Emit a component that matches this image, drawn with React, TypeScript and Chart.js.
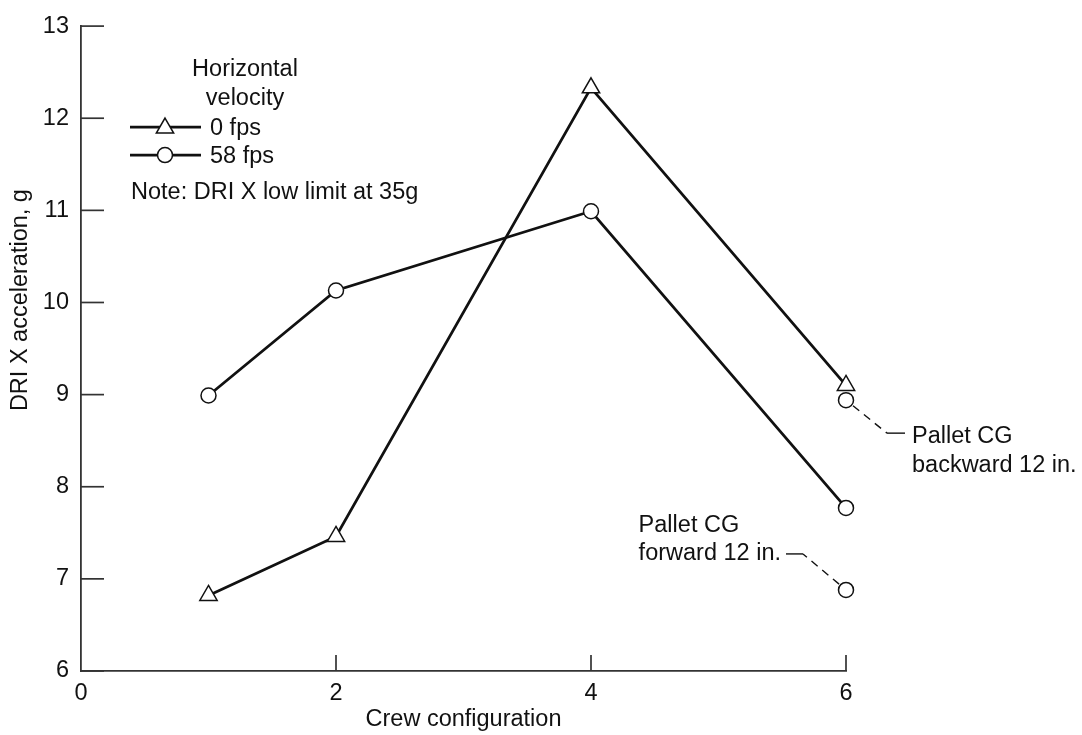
import React, { useEffect, useRef } from "react";
import { Chart, registerables } from "chart.js";

Chart.register(...registerables);

// ---- data ----
const crewConfig = [1, 2, 4, 6];
const accel0fps = [6.82, 7.46, 12.33, 9.1];
const accel58fps = [8.99, 10.13, 10.99, 7.77];
const palletCrew = [6, 6];
const palletAccel = [8.94, 6.88];
const palletLabels = [
  ["Pallet CG", "backward 12 in."],
  ["Pallet CG", "forward 12 in."],
];
const xTickValues = [0, 2, 4, 6];
const yTickValues = [6, 7, 8, 9, 10, 11, 12, 13];
const legendTitle = ["Horizontal", "velocity"];
const seriesNames = ["0 fps", "58 fps"];
const noteText = "Note: DRI X low limit at 35g";
const xTitle = "Crew configuration";
const yTitle = "DRI X acceleration, g";

const FONT_FAMILY = "'Liberation Sans', Arial, Helvetica, sans-serif";
const FONT_SIZE = 23.5;
const INK = "#111";
const AXIS = "#333";

function drawTriangle(ctx: CanvasRenderingContext2D, x: number, y: number, r: number) {
  ctx.beginPath();
  let a = 0;
  for (let i = 0; i < 3; i++) {
    const px = x + Math.sin(a) * r;
    const py = y - Math.cos(a) * r;
    if (i === 0) ctx.moveTo(px, py);
    else ctx.lineTo(px, py);
    a += (2 * Math.PI) / 3;
  }
  ctx.closePath();
  ctx.fillStyle = "#fff";
  ctx.fill();
  ctx.lineWidth = 1.5;
  ctx.strokeStyle = INK;
  ctx.stroke();
}

function drawCircle(ctx: CanvasRenderingContext2D, x: number, y: number, r: number) {
  ctx.beginPath();
  ctx.arc(x, y, r, 0, Math.PI * 2);
  ctx.fillStyle = "#fff";
  ctx.fill();
  ctx.lineWidth = 1.5;
  ctx.strokeStyle = INK;
  ctx.stroke();
}

const decorPlugin = {
  id: "decor",
  beforeDatasetsDraw(chart: any) {
    const ctx: CanvasRenderingContext2D = chart.ctx;
    const { left, bottom } = chart.chartArea;
    const xs = chart.scales.x;
    const ys = chart.scales.y;
    ctx.save();
    ctx.strokeStyle = AXIS;
    ctx.lineWidth = 1.7;
    yTickValues.forEach((v) => {
      const py = ys.getPixelForValue(v);
      ctx.beginPath();
      ctx.moveTo(left, py);
      ctx.lineTo(left + 23, py);
      ctx.stroke();
    });
    xTickValues.forEach((v) => {
      if (v === xs.min) return;
      const px = xs.getPixelForValue(v);
      ctx.beginPath();
      ctx.moveTo(px, bottom);
      ctx.lineTo(px, bottom - 16);
      ctx.stroke();
    });
    ctx.restore();
  },
  afterDraw(chart: any) {
    const ctx: CanvasRenderingContext2D = chart.ctx;
    const { left, right, top, bottom } = chart.chartArea;
    ctx.save();
    ctx.font = `${FONT_SIZE}px ${FONT_FAMILY}`;
    ctx.fillStyle = INK;
    ctx.textBaseline = "middle";

    // axis titles
    ctx.textAlign = "center";
    ctx.fillText(xTitle, (left + right) / 2, bottom + 49);
    ctx.save();
    ctx.translate(21, top + 274);
    ctx.rotate(-Math.PI / 2);
    ctx.fillText(yTitle, 0, 0);
    ctx.restore();

    // legend
    const lx = left + 49;
    const ly = top;
    ctx.textAlign = "center";
    ctx.fillText(legendTitle[0], lx + 115, ly + 43);
    ctx.fillText(legendTitle[1], lx + 115, ly + 72);
    const rows = [ly + 101, ly + 129];
    rows.forEach((ry, i) => {
      ctx.beginPath();
      ctx.moveTo(lx, ry);
      ctx.lineTo(lx + 71, ry);
      ctx.strokeStyle = INK;
      ctx.lineWidth = 2.8;
      ctx.stroke();
      if (i === 0) drawTriangle(ctx, lx + 35, ry + 1, 10);
      else drawCircle(ctx, lx + 35, ry, 7.5);
      ctx.fillStyle = INK;
      ctx.textAlign = "left";
      ctx.fillText(seriesNames[i], lx + 80, ry + 1);
    });
    ctx.fillText(noteText, lx + 1, ly + 166);

    // pallet annotations
    const meta = chart.getDatasetMeta(2);
    const pts = meta.data;
    ctx.lineWidth = 1.4;
    ctx.strokeStyle = INK;
    if (pts[0]) {
      const p = pts[0];
      const ex = p.x + 41, ey = p.y + 33;
      const len = Math.hypot(ex - p.x, ey - p.y);
      const ux = (ex - p.x) / len, uy = (ey - p.y) / len;
      ctx.setLineDash([8, 6]);
      ctx.beginPath();
      ctx.moveTo(p.x + ux * 9, p.y + uy * 9);
      ctx.lineTo(ex, ey);
      ctx.stroke();
      ctx.setLineDash([]);
      ctx.beginPath();
      ctx.moveTo(ex, ey);
      ctx.lineTo(ex + 18, ey);
      ctx.stroke();
      ctx.textAlign = "left";
      ctx.fillText(palletLabels[0][0], ex + 25, ey + 3);
      ctx.fillText(palletLabels[0][1], ex + 25, ey + 32);
    }
    if (pts[1]) {
      const p = pts[1];
      const ex = p.x - 43, ey = p.y - 36;
      const len = Math.hypot(ex - p.x, ey - p.y);
      const ux = (ex - p.x) / len, uy = (ey - p.y) / len;
      ctx.setLineDash([8, 6]);
      ctx.beginPath();
      ctx.moveTo(p.x + ux * 9, p.y + uy * 9);
      ctx.lineTo(ex, ey);
      ctx.stroke();
      ctx.setLineDash([]);
      ctx.beginPath();
      ctx.moveTo(ex, ey);
      ctx.lineTo(ex - 17, ey);
      ctx.stroke();
      const w = ctx.measureText(palletLabels[1][1]).width;
      const tx = ex - 22 - w;
      ctx.textAlign = "left";
      ctx.fillText(palletLabels[1][1], tx, ey);
      ctx.fillText(palletLabels[1][0], tx, ey - 28);
    }
    ctx.restore();
  },
};

export default function App() {
  const canvasRef = useRef<HTMLCanvasElement | null>(null);

  useEffect(() => {
    if (!canvasRef.current) return;
    const tickFont = { family: FONT_FAMILY, size: FONT_SIZE };
    const common = {
      borderColor: INK,
      borderWidth: 2.8,
      pointBorderWidth: 1.5,
      pointBackgroundColor: "#fff",
      pointBorderColor: INK,
      fill: false,
      tension: 0,
      clip: false as any,
    };
    const chart = new Chart(canvasRef.current, {
      type: "line",
      data: {
        datasets: [
          {
            ...common,
            label: seriesNames[0],
            data: crewConfig.map((x, i) => ({ x, y: accel0fps[i] })),
            pointStyle: "triangle",
            pointRadius: 10,
          },
          {
            ...common,
            label: seriesNames[1],
            data: crewConfig.map((x, i) => ({ x, y: accel58fps[i] })),
            pointStyle: "circle",
            pointRadius: 7.5,
          },
          {
            ...common,
            label: "Pallet CG",
            data: palletCrew.map((x, i) => ({ x, y: palletAccel[i] })),
            showLine: false,
            pointStyle: "circle",
            pointRadius: 7.5,
          },
        ],
      },
      options: {
        responsive: false,
        animation: false,
        events: [],
        layout: { padding: { top: 18, right: 236, left: 0, bottom: 0 } },
        plugins: {
          legend: { display: false },
          tooltip: { enabled: false },
          title: { display: false },
        },
        scales: {
          x: {
            type: "linear",
            min: 0,
            max: 6,
            grid: { display: false, drawTicks: false },
            border: { display: true, color: AXIS, width: 1.8 },
            ticks: { color: INK, font: tickFont, padding: 8, maxRotation: 0 },
            afterBuildTicks: (scale: any) => {
              scale.ticks = xTickValues.map((v) => ({ value: v }));
            },
            afterFit: (scale: any) => {
              scale.height = 64;
            },
          },
          y: {
            type: "linear",
            min: 6,
            max: 13,
            grid: { display: false, drawTicks: false },
            border: { display: true, color: AXIS, width: 1.8 },
            ticks: { color: INK, font: tickFont, padding: 12 },
            afterBuildTicks: (scale: any) => {
              scale.ticks = yTickValues.map((v) => ({ value: v }));
            },
            afterFit: (scale: any) => {
              scale.width = 81;
            },
          },
        },
      },
      plugins: [decorPlugin],
    });
    return () => chart.destroy();
  }, []);

  return (
    <div style={{ position: "absolute", left: 0, top: 0, width: 1082, height: 735, background: "#fff" }}>
      <canvas ref={canvasRef} width={1082} height={735} style={{ display: "block" }} />
    </div>
  );
}
